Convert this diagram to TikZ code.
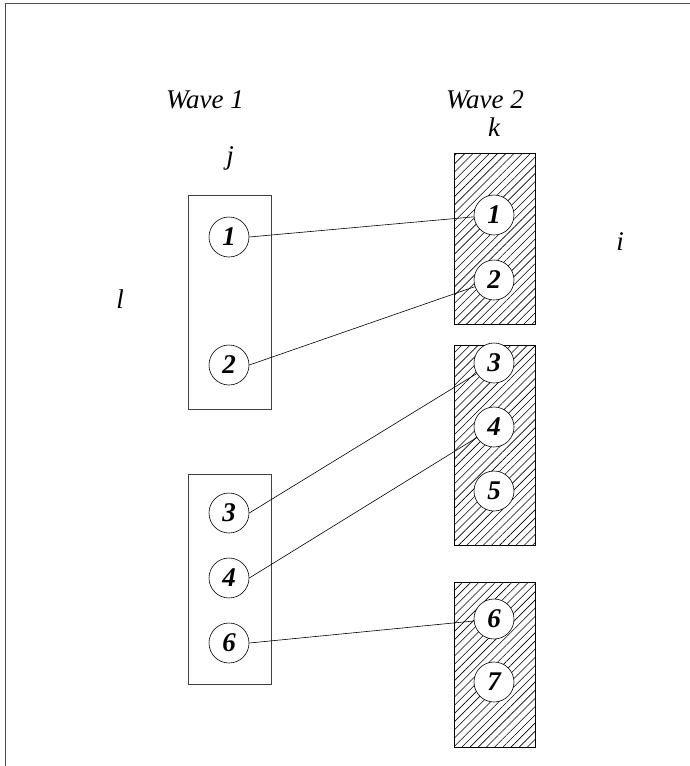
\documentclass[tikz,border=0pt]{standalone}
\usepackage{fontspec}
\setmainfont{Liberation Serif}
\usetikzlibrary{patterns.meta}
\begin{document}
\begin{tikzpicture}[x=1pt,y=-1pt,
  frameline/.style={draw=black!70,line width=0.9pt},
  groupbox/.style={draw=black!75,line width=0.8pt},
  hatchbox/.style={draw=black,line width=0.8pt,
    pattern={Lines[angle=45,distance=5.8pt,line width=0.6pt]}},
  proc/.style={circle,draw=black,line width=0.6pt,fill=white,
    minimum size=40pt,inner sep=0pt,
    font=\fontsize{27}{27}\selectfont\bfseries\itshape},
  lbl/.style={font=\fontsize{27}{27}\selectfont\itshape,inner sep=0pt},
  link/.style={draw=black,line width=0.6pt}]
\useasboundingbox (0,0) rectangle (690,766);
% page frame (top and left edges)
\draw[frameline] (690,3) -- (5,3) -- (5,766);

% headings and axis letters
\node[lbl] (w1) at (205,100) {Wave 1};
\node[lbl] (w2) at (485,100) {Wave 2};
\node[lbl] (lj) at (230,158) {j};
\node[lbl] (lk) at (494,127) {k};
\node[lbl] (li) at (620,242) {i};
\node[lbl] (ll) at (120,299) {l};

% wave 1 groups
\draw[groupbox] (188,195) rectangle (271,409);
\draw[groupbox] (188,474) rectangle (271,684);
% wave 2 groups (hatched)
\draw[hatchbox] (454,153) rectangle (535,324);
\draw[hatchbox] (454,345) rectangle (535,545);
\draw[hatchbox] (454,582) rectangle (535,747);

% wave 1 processes
\node[proc] (a1) at (229,237) {1};
\node[proc] (a2) at (229,365) {2};
\node[proc] (a3) at (229,513) {3};
\node[proc] (a4) at (229,578) {4};
\node[proc] (a6) at (229,643) {6};

% wave 2 processes
\node[proc] (b1) at (494,215) {1};
\node[proc] (b2) at (494,280) {2};
\node[proc] (b3) at (494,363) {3};
\node[proc] (b4) at (494,427) {4};
\node[proc] (b5) at (494,491) {5};
\node[proc] (b6) at (494,619) {6};
\node[proc] (b7) at (494,682) {7};

% connections
\draw[link] (a1.east) -- (b1);
\draw[link] (a2.east) -- (b2);
\draw[link] (a3.east) -- (b3);
\draw[link] (a4.east) -- (b4);
\draw[link] (a6.east) -- (b6);
\end{tikzpicture}
\end{document}
